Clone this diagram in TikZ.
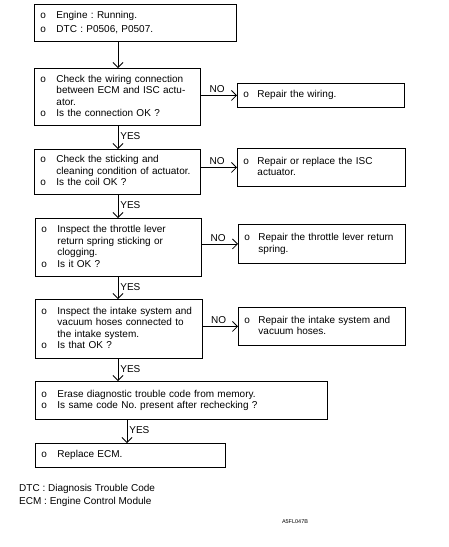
\documentclass[tikz,border=0pt]{standalone}
\usepackage{fontspec}
\setmainfont{Liberation Sans}
\usetikzlibrary{positioning, arrows.meta}
\frenchspacing
\newcommand{\olist}[2][16pt]{\begin{tabular}{@{}p{#1}@{}l@{}}#2\end{tabular}}

\begin{document}
\begin{tikzpicture}[x=1pt, y=-1pt,
  box/.style={draw, line width=0.9pt, anchor=north west, inner xsep=6pt, inner ysep=0pt, align=left, font=\fontsize{10}{11.5}\selectfont},
  arr/.style={-{Straight Barb[length=5pt,width=10pt]}, line width=0.8pt},
  lbl/.style={font=\fontsize{10}{11}\selectfont, inner sep=2pt},
  yeslbl/.style={lbl, right, pos=0.45},
  nolbl/.style={lbl, above, pos=0.45}]
\useasboundingbox (0,0) rectangle (448,547);

\node[box, text width=190, minimum height=37] (start) at (34,4) {\olist{o & Engine : Running.\\[2pt] o & DTC : P0506, P0507.}};
\node[box, text width=154, minimum height=57] (chk1) at (34,68) {\olist{o & Check the wiring connection\\ & between ECM and ISC actu-\\ & ator.\\ o & Is the connection OK ?}};
\node[box, text width=154, minimum height=45] (chk2) at (34,149) {\olist{o & Check the sticking and\\ & cleaning condition of actuator.\\ o & Is the coil OK ?}};
\node[box, text width=154, minimum height=58] (chk3) at (35,218) {\olist{o & Inspect the throttle lever\\ & return spring sticking or\\ & clogging.\\ o & Is it OK ?}};
\node[box, text width=155, minimum height=59] (chk4) at (35,299) {\olist{o & Inspect the intake system and\\ & vacuum hoses connected to\\ & the intake system.\\ o & Is that OK ?}};
\node[box, text width=280, minimum height=38] (erase) at (35,381) {\olist{o & Erase diagnostic trouble code from memory.\\ o & Is same code No. present after rechecking ?}};
\node[box, text width=178, minimum height=24] (ecm) at (35,443) {\olist{o & Replace ECM.}};

\node[box, text width=155, minimum height=24] (rep1) at (237,83) {\olist[14pt]{o & Repair the wiring.}};
\node[box, text width=156, minimum height=38] (rep2) at (237,148) {\olist[14pt]{o & Repair or replace the ISC\\ & actuator.}};
\node[box, text width=155, minimum height=39] (rep3) at (238,224) {\olist[14pt]{o & Repair the throttle lever return\\ & spring.}};
\node[box, text width=155, minimum height=38] (rep4) at (238,307) {\olist[14pt]{o & Repair the intake system and\\ & vacuum hoses.}};

\coordinate (trunk) at (118,0);
\coordinate (trunkb) at (127,0);

\draw[arr] (start.south -| trunk) -- (chk1.north -| trunk);
\draw[arr] (chk1.south -| trunk) -- node[yeslbl] {YES} (chk2.north -| trunk);
\draw[arr] (chk2.south -| trunk) -- node[yeslbl] {YES} (chk3.north -| trunk);
\draw[arr] (chk3.south -| trunk) -- node[yeslbl] {YES} (chk4.north -| trunk);
\draw[arr] (chk4.south -| trunk) -- node[yeslbl] {YES} (erase.north -| trunk);
\draw[arr] (erase.south -| trunkb) -- node[yeslbl] {YES} (ecm.north -| trunkb);

\draw[arr] (chk1.east |- rep1.west) -- node[nolbl] {NO} (rep1.west);
\draw[arr] (chk2.east |- rep2.west) -- node[nolbl] {NO} (rep2.west);
\draw[arr] (chk3.east |- rep3.west) -- node[nolbl] {NO} (rep3.west);
\draw[arr] (chk4.east |- rep4.west) -- node[nolbl] {NO} (rep4.west);

\node[lbl, anchor=west] (dtcnote) at (17,489) {DTC : Diagnosis Trouble Code};
\node[lbl, anchor=west] (ecmnote) at (17,502) {ECM : Engine Control Module};
\node[font=\fontsize{5.5}{6}\selectfont] (figcode) at (295,522) {A5FL047B};
\end{tikzpicture}
\end{document}
